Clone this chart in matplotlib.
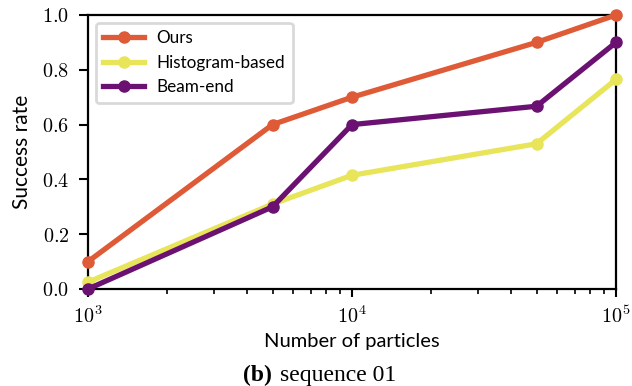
import math

import matplotlib
matplotlib.use("Agg")
import matplotlib.pyplot as plt
from matplotlib.ticker import FuncFormatter, LogLocator

# Success rate vs. particle count, sequence 01
particles = [1e3, 5e3, 1e4, 5e4, 1e5]
ours = [0.10, 0.60, 0.70, 0.90, 1.00]
histogram_based = [0.025, 0.31, 0.415, 0.53, 0.765]
beam_end = [0.0, 0.30, 0.60, 0.667, 0.90]

series_names = ["Ours", "Histogram-based", "Beam-end"]
COLORS = ["#df5a36", "#e8e55a", "#6b1172"]

plt.rcParams.update({
    "font.family": "Lato",
    "mathtext.fontset": "cm",
    "axes.linewidth": 1.6,
    "xtick.major.width": 1.5,
    "ytick.major.width": 1.5,
    "xtick.minor.width": 1.2,
    "xtick.major.size": 6,
    "ytick.major.size": 6.5,
    "xtick.minor.size": 3.5,
})

fig = plt.figure(figsize=(6.32, 3.86), dpi=100)
ax = fig.add_axes([88 / 632, 1 - 289 / 386, 528 / 632, 274 / 386])

for vals, name, color in zip([ours, histogram_based, beam_end], series_names, COLORS):
    ax.plot(particles, vals, color=color, linewidth=3.8, marker="o",
            markersize=8, label=name, clip_on=False, zorder=3)

ax.set_xscale("log")
ax.set_xlim(1e3, 1e5)
ax.set_ylim(0, 1)
ax.xaxis.set_major_locator(LogLocator(base=10, numticks=10))
ax.xaxis.set_minor_locator(LogLocator(base=10, subs=range(2, 10), numticks=20))
ax.xaxis.set_major_formatter(FuncFormatter(lambda v, _: r"$10^{%d}$" % round(math.log10(v))))
ax.set_yticks([0.0, 0.2, 0.4, 0.6, 0.8, 1.0])
ax.yaxis.set_major_formatter(FuncFormatter(lambda v, _: r"$%.1f$" % v))
ax.tick_params(axis="both", which="major", labelsize=14.5)
ax.tick_params(axis="y", which="major", pad=7)
ax.tick_params(axis="x", which="major", pad=5)

ax.set_xlabel("Number of particles", fontsize=14.5, labelpad=5)
ax.set_ylabel("Success rate", fontsize=15, labelpad=7)

leg = ax.legend(loc="upper left", fontsize=12.3, frameon=True, fancybox=True,
                handlelength=2.4, handletextpad=0.7, borderpad=0.45,
                labelspacing=0.5, borderaxespad=0.45)
leg.get_frame().set_edgecolor("#d0d0d0")
leg.get_frame().set_linewidth(2.0)

# figure caption below the axis label
fig.text(272 / 632, 5 / 386, "(b)", fontfamily="Liberation Serif",
         fontweight="bold", fontsize=17, ha="right", va="baseline")
fig.text(280 / 632, 5 / 386, "sequence 01", fontfamily="Liberation Serif",
         fontsize=17, ha="left", va="baseline")

fig.savefig("out.png", dpi=100)
